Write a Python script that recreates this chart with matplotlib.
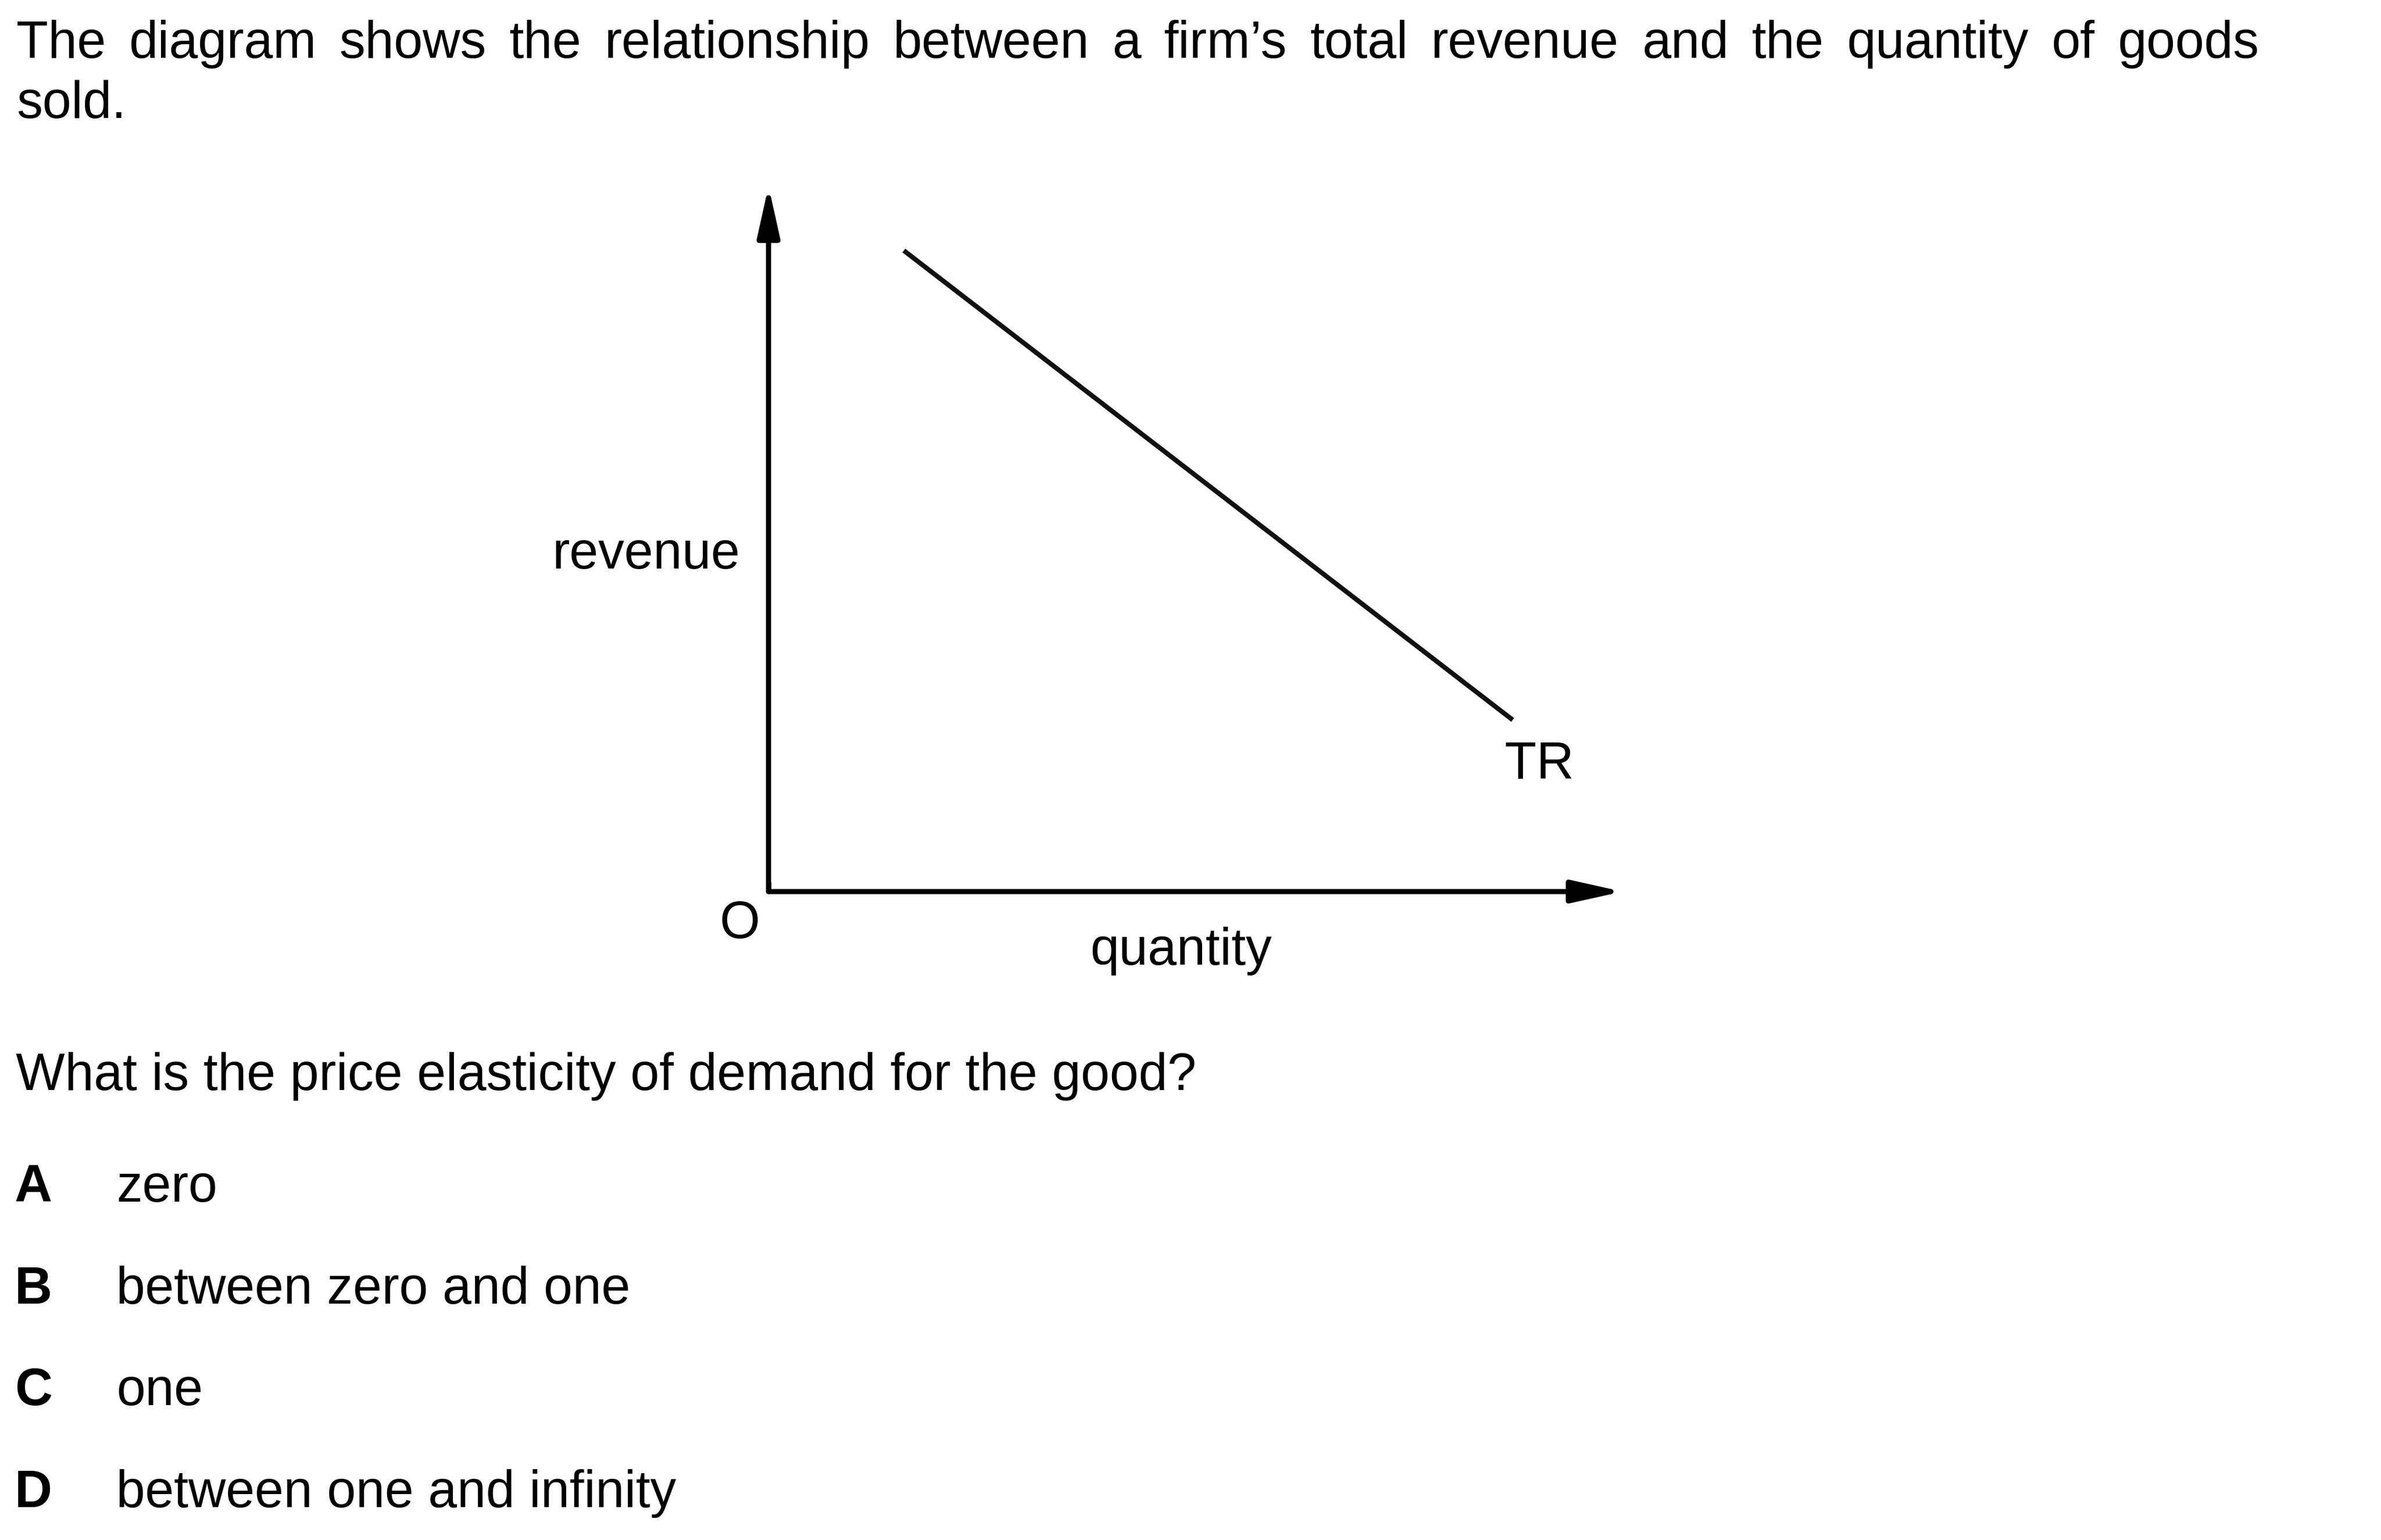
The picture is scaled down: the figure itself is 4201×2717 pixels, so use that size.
import matplotlib
matplotlib.use("Agg")
import matplotlib.pyplot as plt

# diagram data (arbitrary units on the schematic axes)
axis_max = 10.0
tr_quantity = [1.6, 8.8]
tr_revenue = [9.15, 2.45]

# texts
intro_line1 = "The diagram shows the relationship between a firm\u2019s total revenue and the quantity of goods"
intro_line2 = "sold."
question = "What is the price elasticity of demand for the good?"
option_letters = ["A", "B", "C", "D"]
option_texts = ["zero", "between zero and one", "one", "between one and infinity"]

W, H = 4201, 2717
FS = 66
FONT = "Liberation Sans"

fig = plt.figure(figsize=(W / 100, H / 100), dpi=100)
fig.patch.set_facecolor("white")


def px(x, y):
    return x / W, 1 - y / H


def put_text(x, y, s, **kw):
    kw.setdefault("fontsize", FS)
    kw.setdefault("family", FONT)
    kw.setdefault("va", "baseline")
    return fig.text(*px(x, y), s, **kw)


def put_justified(line, x0, x1, y):
    renderer = fig.canvas.get_renderer()
    words = line.split(" ")
    items = [put_text(0, y, w) for w in words]
    widths = [t.get_window_extent(renderer).width for t in items]
    gap = (x1 - x0 - sum(widths)) / (len(words) - 1)
    x = x0
    for t, w in zip(items, widths):
        t.set_position(px(x, y))
        x += w + gap


# heading
put_justified(intro_line1, 29, 3986, 102)
put_text(29, 208, intro_line2)

# diagram axes: origin at the corner, arrow tips just past axis_max
ax = fig.add_axes([1356 / W, 1 - 1573 / H, 1492 / W, 1236 / H])
ax.set_xlim(0, axis_max)
ax.set_ylim(0, axis_max)
ax.axis("off")

arrow = dict(arrowstyle="-|>,head_length=54,head_width=12", mutation_scale=1,
             lw=6.5, color="black", shrinkA=0, shrinkB=0)
ax.annotate("", xy=(0, axis_max + 0.07), xytext=(0, 0), arrowprops=arrow, annotation_clip=False)
ax.annotate("", xy=(axis_max + 0.1, 0), xytext=(0, 0), arrowprops=arrow, annotation_clip=False)
ax.plot([0, 0], [0, 0.1], color="black", lw=6.5, solid_capstyle="projecting")

ax.plot(tr_quantity, tr_revenue, color="#111111", lw=6, solid_capstyle="butt")

put_text(1306, 1003, "revenue", ha="right")
put_text(2655, 1374, "TR")
put_text(1305, 1655, "O", ha="center")
put_text(2084, 1702, "quantity", ha="center")

# question and options
put_text(28, 1923, question)
for i, (letter, txt) in enumerate(zip(option_letters, option_texts)):
    y = 2120 + i * 179.7
    put_text(26, y, letter, fontweight="bold")
    put_text(205, y, txt)

fig.savefig("out.png", dpi=100)
plt.close(fig)
